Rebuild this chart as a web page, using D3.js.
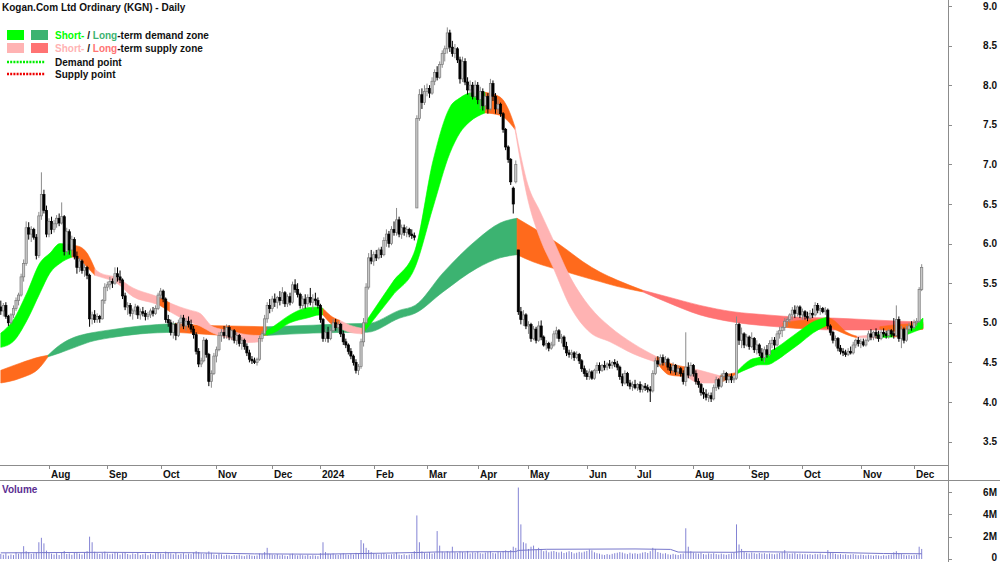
<!DOCTYPE html>
<html><head><meta charset="utf-8">
<script src="https://cdn.jsdelivr.net/npm/d3@7"></script>
<style>
body{margin:0;background:#fff}
svg{display:block;font-family:"Liberation Sans",Arial,sans-serif}
</style></head><body>
<svg id="chart" width="1000" height="562"></svg>
<script>
// ---- data ----
var title = 'Kogan.Com Ltd Ordinary (KGN) - Daily';
var firstDay = '2023-07-05', lastDay = '2024-12-05';
var holidays = ['2023-12-25','2023-12-26','2024-01-01','2024-01-26','2024-03-29','2024-04-01','2024-04-25','2024-06-10'];
var monthLabels = ['Aug','Sep','Oct','Nov','Dec','2024','Feb','Mar','Apr','May','Jun','Jul','Aug','Sep','Oct','Nov','Dec'];
var priceTicks = [3.5,4.0,4.5,5.0,5.5,6.0,6.5,7.0,7.5,8.0,8.5,9.0];
var volumeTicks = [0,2,4,6];

// [open, high, low, close] per trading day
var ohlc = [
 [5.20,5.28,5.10,5.15],[5.15,5.25,5.08,5.22],[5.22,5.26,5.05,5.08],[5.08,5.10,4.96,5.00],[5.00,5.12,4.98,5.10],
 [5.10,5.22,5.06,5.18],[5.18,5.32,5.15,5.28],[5.28,5.38,5.22,5.35],[5.35,5.62,5.33,5.58],[5.58,5.80,5.52,5.75],
 [5.75,6.28,5.72,6.20],[6.20,6.27,6.05,6.12],[6.12,6.22,6.02,6.18],[6.18,6.20,6.05,6.08],[6.08,6.12,5.80,5.85],
 [5.85,6.40,5.82,6.35],[6.35,6.90,6.30,6.62],[6.62,6.68,6.38,6.42],[6.42,6.48,6.08,6.12],[6.12,6.32,6.08,6.28],
 [6.28,6.34,6.12,6.18],[6.18,6.30,6.14,6.25],[6.25,6.36,6.20,6.32],[6.32,6.38,6.22,6.26],[6.26,6.52,6.24,6.34],
 [6.34,6.36,5.85,5.90],[5.90,6.20,5.85,6.15],[6.15,6.18,5.86,5.92],[5.92,6.10,5.84,6.05],[6.05,6.08,5.80,5.84],
 [5.84,5.90,5.62,5.70],[5.70,5.82,5.64,5.78],[5.78,5.80,5.62,5.66],[5.66,5.74,5.58,5.70],[5.70,5.72,5.55,5.60],
 [5.60,5.62,4.95,5.05],[5.05,5.14,4.98,5.10],[5.10,5.16,5.00,5.04],[5.04,5.12,5.00,5.08],[5.08,5.10,5.00,5.05],
 [5.05,5.30,5.04,5.28],[5.28,5.50,5.24,5.45],[5.45,5.52,5.40,5.48],[5.48,5.58,5.42,5.52],[5.52,5.56,5.44,5.50],
 [5.50,5.70,5.48,5.62],[5.62,5.70,5.52,5.58],[5.58,5.66,5.50,5.54],[5.54,5.56,5.30,5.34],[5.34,5.38,5.16,5.20],
 [5.20,5.26,5.10,5.22],[5.22,5.25,5.08,5.12],[5.12,5.18,5.04,5.15],[5.15,5.24,5.10,5.20],[5.20,5.22,5.05,5.10],
 [5.10,5.18,5.04,5.14],[5.14,5.20,5.08,5.12],[5.12,5.16,5.03,5.08],[5.08,5.14,5.04,5.10],[5.10,5.18,5.06,5.15],
 [5.15,5.20,5.08,5.12],[5.12,5.22,5.10,5.18],[5.18,5.38,5.16,5.35],[5.35,5.44,5.30,5.40],[5.40,5.42,5.26,5.30],
 [5.30,5.32,5.00,5.04],[5.04,5.10,4.95,5.00],[5.00,5.04,4.84,4.88],[4.88,5.02,4.80,4.98],[4.98,5.00,4.78,4.84],
 [4.84,5.04,4.82,5.00],[5.00,5.10,4.94,5.06],[5.06,5.10,4.92,4.96],[4.96,5.06,4.90,5.02],[5.02,5.08,4.94,4.98],
 [4.98,5.04,4.88,4.92],[4.92,4.96,4.80,4.85],[4.85,4.88,4.60,4.64],[4.64,4.68,4.44,4.48],[4.48,4.56,4.44,4.52],
 [4.52,4.82,4.50,4.78],[4.78,4.80,4.56,4.60],[4.60,4.62,4.20,4.26],[4.26,4.40,4.18,4.36],[4.36,4.62,4.34,4.58],
 [4.58,4.70,4.50,4.66],[4.66,4.88,4.64,4.84],[4.84,4.92,4.76,4.88],[4.88,4.96,4.80,4.84],[4.84,4.98,4.80,4.94],
 [4.94,4.97,4.78,4.82],[4.82,4.92,4.78,4.90],[4.90,4.92,4.74,4.78],[4.78,4.88,4.72,4.84],[4.84,4.86,4.70,4.74],
 [4.74,4.82,4.66,4.78],[4.78,4.80,4.66,4.70],[4.70,4.74,4.58,4.62],[4.62,4.66,4.50,4.54],[4.54,4.58,4.48,4.52],
 [4.52,4.56,4.48,4.50],[4.50,4.56,4.46,4.54],[4.54,4.84,4.52,4.80],[4.80,4.90,4.76,4.86],[4.86,5.10,4.84,5.05],
 [5.05,5.26,5.00,5.22],[5.22,5.30,5.12,5.18],[5.18,5.34,5.14,5.30],[5.30,5.37,5.20,5.26],[5.26,5.34,5.18,5.32],
 [5.32,5.40,5.22,5.28],[5.28,5.45,5.24,5.38],[5.38,5.40,5.20,5.24],[5.24,5.36,5.20,5.33],[5.33,5.38,5.22,5.26],
 [5.26,5.52,5.24,5.48],[5.48,5.55,5.38,5.42],[5.42,5.50,5.32,5.36],[5.36,5.38,5.18,5.22],[5.22,5.34,5.16,5.30],
 [5.30,5.36,5.18,5.24],[5.24,5.36,5.20,5.32],[5.32,5.44,5.22,5.26],[5.26,5.36,5.16,5.30],[5.30,5.38,5.22,5.28],
 [5.28,5.32,5.18,5.22],[5.22,5.24,5.00,5.04],[5.04,5.06,4.76,4.80],[4.80,4.92,4.76,4.88],[4.88,4.95,4.75,4.80],
 [4.80,4.94,4.78,4.90],[4.90,5.05,4.88,5.00],[5.00,5.05,4.90,4.94],[4.94,5.02,4.88,4.98],[4.98,5.00,4.82,4.86],
 [4.86,4.90,4.72,4.76],[4.76,4.80,4.68,4.72],[4.72,4.74,4.60,4.64],[4.64,4.68,4.54,4.58],[4.58,4.60,4.46,4.50],
 [4.50,4.54,4.36,4.40],[4.40,4.48,4.34,4.45],[4.45,4.80,4.42,4.76],[4.76,5.06,4.70,5.00],[5.00,5.50,4.98,5.45],
 [5.45,5.88,5.42,5.82],[5.82,5.92,5.74,5.78],[5.78,5.90,5.72,5.86],[5.86,5.92,5.78,5.82],[5.82,5.95,5.80,5.92],
 [5.92,5.96,5.82,5.86],[5.86,6.08,5.84,6.04],[6.04,6.18,5.96,6.12],[6.12,6.16,5.95,6.00],[6.00,6.22,5.98,6.18],
 [6.18,6.28,6.10,6.14],[6.14,6.45,6.10,6.30],[6.30,6.34,6.08,6.12],[6.12,6.24,6.06,6.20],[6.20,6.24,6.10,6.14],
 [6.14,6.22,6.08,6.18],[6.18,6.20,6.08,6.12],[6.12,6.18,6.06,6.10],[6.10,6.14,6.04,6.08],[6.45,7.62,6.45,7.58],
 [7.58,7.95,7.55,7.88],[7.88,7.96,7.70,7.78],[7.78,8.00,7.75,7.92],[7.92,8.02,7.86,7.96],[7.96,8.00,7.84,7.90],
 [7.90,8.10,7.88,8.05],[8.05,8.20,8.00,8.16],[8.16,8.24,8.06,8.10],[8.10,8.30,8.08,8.26],[8.26,8.44,8.22,8.40],
 [8.40,8.50,8.30,8.46],[8.46,8.73,8.40,8.66],[8.66,8.70,8.42,8.48],[8.48,8.56,8.36,8.40],[8.40,8.52,8.34,8.46],
 [8.46,8.48,8.28,8.32],[8.32,8.36,8.02,8.08],[8.08,8.36,8.04,8.30],[8.30,8.34,8.00,8.04],[8.04,8.10,7.88,7.94],
 [7.94,8.06,7.86,8.00],[8.00,8.04,7.82,7.86],[7.86,8.06,7.84,8.00],[8.00,8.04,7.76,7.82],[7.82,7.98,7.70,7.92],
 [7.92,7.96,7.68,7.74],[7.74,7.90,7.68,7.86],[7.86,7.90,7.64,7.70],[7.70,8.08,7.68,8.02],[8.02,8.06,7.80,7.86],
 [7.86,7.90,7.64,7.70],[7.70,7.82,7.64,7.76],[7.76,7.78,7.60,7.64],[7.64,7.66,7.40,7.44],[7.44,7.46,7.18,7.22],
 [7.22,7.24,7.02,7.06],[7.06,7.08,6.74,6.78],[6.70,6.72,6.38,6.50],[6.78,7.05,6.76,7.00],[5.92,5.92,5.10,5.14],
 [5.14,5.20,4.98,5.04],[5.04,5.16,4.96,5.10],[5.10,5.12,4.92,4.96],[4.96,5.02,4.86,4.98],[4.98,5.00,4.76,4.80],
 [4.80,4.96,4.78,4.92],[4.92,4.95,4.74,4.78],[4.78,5.02,4.76,4.96],[4.96,5.03,4.78,4.82],[4.82,4.84,4.70,4.72],
 [4.72,4.78,4.66,4.74],[4.74,4.76,4.64,4.68],[4.68,4.76,4.66,4.72],[4.72,4.90,4.70,4.86],[4.86,4.95,4.80,4.90],
 [4.90,4.92,4.76,4.80],[4.80,4.86,4.74,4.82],[4.82,4.84,4.66,4.70],[4.70,4.76,4.58,4.62],[4.62,4.66,4.56,4.60],
 [4.60,4.66,4.54,4.62],[4.62,4.64,4.52,4.56],[4.56,4.64,4.54,4.60],[4.60,4.62,4.48,4.52],[4.52,4.54,4.38,4.42],
 [4.42,4.46,4.32,4.36],[4.36,4.40,4.28,4.32],[4.32,4.42,4.28,4.38],[4.38,4.40,4.28,4.30],[4.30,4.42,4.28,4.40],
 [4.40,4.50,4.36,4.46],[4.46,4.50,4.36,4.40],[4.40,4.48,4.38,4.46],[4.46,4.52,4.40,4.44],[4.44,4.50,4.40,4.48],
 [4.48,4.53,4.42,4.46],[4.46,4.52,4.42,4.50],[4.50,4.54,4.44,4.48],[4.48,4.52,4.40,4.44],[4.44,4.46,4.28,4.32],
 [4.32,4.36,4.20,4.24],[4.24,4.40,4.22,4.36],[4.36,4.38,4.20,4.24],[4.24,4.28,4.16,4.20],[4.20,4.26,4.14,4.22],
 [4.22,4.28,4.16,4.18],[4.18,4.24,4.14,4.22],[4.22,4.26,4.12,4.16],[4.16,4.22,4.12,4.20],[4.20,4.24,4.14,4.18],
 [4.18,4.22,4.12,4.16],[4.16,4.20,4.00,4.14],[4.14,4.40,4.12,4.36],[4.36,4.56,4.34,4.52],[4.52,4.58,4.44,4.48],
 [4.48,4.60,4.46,4.56],[4.56,4.60,4.46,4.50],[4.50,4.58,4.46,4.54],[4.54,4.56,4.40,4.44],[4.44,4.48,4.36,4.40],
 [4.40,4.50,4.36,4.46],[4.46,4.48,4.34,4.38],[4.38,4.46,4.34,4.42],[4.42,4.44,4.32,4.36],[4.36,4.40,4.22,4.26],
 [4.26,4.88,4.20,4.44],[4.44,4.50,4.30,4.34],[4.34,4.50,4.32,4.46],[4.46,4.48,4.32,4.36],[4.36,4.40,4.22,4.26],
 [4.26,4.30,4.18,4.22],[4.22,4.24,4.08,4.12],[4.12,4.18,4.04,4.10],[4.10,4.16,4.02,4.06],[4.06,4.12,4.00,4.08],
 [4.08,4.12,4.00,4.04],[4.04,4.22,4.02,4.18],[4.18,4.32,4.14,4.28],[4.28,4.30,4.16,4.20],[4.20,4.36,4.18,4.32],
 [4.32,4.40,4.26,4.36],[4.36,4.38,4.24,4.28],[4.28,4.36,4.24,4.32],[4.32,4.36,4.24,4.28],[4.28,4.34,4.24,4.30],
 [4.30,5.08,4.28,4.98],[4.98,5.00,4.72,4.78],[4.78,4.94,4.68,4.86],[4.86,4.88,4.68,4.72],[4.72,4.86,4.70,4.82],
 [4.82,4.84,4.66,4.70],[4.70,4.88,4.68,4.80],[4.80,4.82,4.62,4.66],[4.66,4.78,4.60,4.72],[4.72,4.74,4.58,4.62],
 [4.62,4.68,4.52,4.56],[4.56,4.70,4.50,4.66],[4.66,4.72,4.56,4.60],[4.60,4.78,4.58,4.74],[4.74,4.82,4.68,4.78],
 [4.78,4.82,4.66,4.72],[4.72,4.90,4.70,4.86],[4.86,4.95,4.80,4.90],[4.90,4.96,4.82,4.94],[4.94,5.06,4.90,5.02],
 [5.02,5.07,4.95,5.04],[5.04,5.12,5.00,5.10],[5.10,5.20,5.04,5.16],[5.16,5.22,5.06,5.12],[5.12,5.22,5.08,5.20],
 [5.20,5.22,5.06,5.10],[5.10,5.18,5.04,5.14],[5.14,5.16,5.04,5.08],[5.08,5.14,5.02,5.06],[5.06,5.16,5.04,5.12],
 [5.12,5.18,5.06,5.10],[5.10,5.26,5.08,5.22],[5.22,5.25,5.12,5.16],[5.16,5.22,5.10,5.18],[5.18,5.20,5.12,5.14],
 [5.14,5.20,5.10,5.16],[5.16,5.18,4.92,4.96],[4.96,4.98,4.84,4.88],[4.88,4.90,4.74,4.78],[4.78,4.84,4.70,4.80],
 [4.80,4.82,4.64,4.68],[4.68,4.72,4.60,4.64],[4.64,4.68,4.58,4.62],[4.62,4.66,4.57,4.60],[4.60,4.68,4.58,4.64],
 [4.64,4.70,4.60,4.62],[4.62,4.76,4.60,4.72],[4.72,4.80,4.68,4.78],[4.78,4.82,4.70,4.74],[4.74,4.80,4.68,4.76],
 [4.76,4.80,4.70,4.72],[4.72,4.80,4.70,4.78],[4.78,4.90,4.76,4.86],[4.86,4.92,4.78,4.82],[4.82,4.90,4.78,4.88],
 [4.88,4.93,4.80,4.84],[4.84,4.90,4.76,4.80],[4.80,4.92,4.78,4.88],[4.88,4.93,4.82,4.86],[4.86,4.90,4.80,4.84],
 [4.84,4.92,4.80,4.90],[4.90,4.92,4.82,4.86],[4.86,5.06,4.80,4.84],[4.84,5.22,4.82,5.04],[5.04,5.08,4.76,4.80],
 [4.80,4.96,4.68,4.92],[4.92,4.94,4.74,4.78],[4.78,4.96,4.76,4.92],[4.92,5.00,4.88,4.96],[4.96,5.02,4.90,4.94],
 [4.94,5.04,4.92,5.00],[5.00,5.06,4.96,5.02],[5.02,5.45,5.00,5.42],[5.42,5.74,5.40,5.70]
];

// daily volume, millions of shares
var volume = [
 0.45,0.38,0.52,0.30,0.41,0.35,0.60,0.48,0.55,1.15,0.70,0.62,0.45,0.50,0.58,1.50,1.90,1.40,0.75,0.55,
 0.48,0.40,0.52,0.36,0.60,0.72,0.45,0.50,0.38,0.55,0.62,0.48,0.40,0.58,0.70,2.00,1.50,0.65,0.52,0.45,
 0.58,0.66,0.50,0.42,0.48,0.62,0.55,0.40,0.52,0.60,0.45,0.38,0.50,0.44,0.58,0.36,0.42,0.50,0.34,0.46,
 0.40,0.52,0.60,0.48,0.44,0.66,0.58,0.50,0.42,0.55,0.38,0.46,0.52,0.40,0.48,0.44,0.58,0.70,0.62,0.50,
 0.45,0.52,0.68,0.55,0.40,0.36,0.48,0.42,0.30,0.38,0.34,0.28,0.36,0.32,0.40,0.30,0.26,0.34,0.38,0.30,
 0.28,0.32,0.50,0.44,0.62,1.00,0.48,0.40,0.36,0.44,0.32,0.38,0.30,0.26,0.42,0.48,0.36,0.32,0.40,0.34,
 0.30,0.38,0.28,0.34,0.30,0.26,0.52,1.50,0.62,0.48,0.44,0.50,0.40,0.36,0.46,0.52,0.42,0.38,0.48,0.40,
 0.55,0.50,1.70,1.40,1.00,0.80,0.62,0.50,0.45,0.40,0.48,0.52,0.44,0.38,0.42,0.46,0.58,0.40,0.36,0.42,
 0.34,0.40,0.48,0.70,3.90,1.50,0.68,0.55,0.50,0.62,0.48,0.56,2.50,1.20,0.66,0.58,0.70,0.62,1.10,0.60,
 0.55,0.68,0.62,0.58,0.72,0.50,0.60,0.56,0.66,0.52,0.48,0.58,0.62,0.70,0.54,0.50,0.66,0.60,0.72,0.78,
 0.70,0.80,1.10,1.00,6.40,3.10,1.50,1.40,0.90,1.10,1.20,0.85,1.00,0.90,0.70,0.76,0.60,0.68,0.72,0.64,
 0.58,0.66,0.54,0.60,0.70,0.62,0.50,0.56,0.64,0.58,0.66,0.72,0.85,0.78,0.60,0.52,0.48,0.40,0.36,0.44,
 0.38,0.46,0.52,0.56,0.62,0.58,0.50,0.44,0.56,0.48,0.52,0.46,0.50,0.58,0.62,0.54,0.70,1.00,0.90,0.62,
 0.55,0.48,0.52,0.42,0.38,0.46,0.40,0.36,0.44,0.50,2.75,1.10,0.70,0.58,0.52,0.48,0.56,0.44,0.40,0.50,
 0.46,0.52,0.44,0.40,0.48,0.42,0.38,0.44,0.50,0.56,3.10,1.30,0.90,0.62,0.56,0.50,0.58,0.52,0.46,0.54,
 0.48,0.52,0.44,0.50,0.46,0.42,0.48,0.54,0.60,0.80,0.52,0.46,0.50,0.56,0.44,0.48,0.42,0.46,0.40,0.44,
 0.38,0.46,0.42,0.48,0.40,0.36,0.80,0.58,0.52,0.46,0.40,0.44,0.38,0.42,0.36,0.40,0.44,0.38,0.34,0.40,
 0.36,0.32,0.38,0.34,0.30,0.36,0.32,0.28,0.34,0.30,0.36,0.40,0.60,0.70,0.52,0.44,0.38,0.32,0.36,0.30,0.34,0.38,1.10,0.90
];

// volume average line: [bar, millions]
var volumeAvg = [[0,0.55],[40,0.6],[75,0.56],[100,0.46],[125,0.43],[145,0.5],[164,0.58],[172,0.63],[203,0.66],
 [204,0.77],[215,0.87],[250,0.9],[264,0.86],[267,0.62],[289,0.6],[292,0.66],[330,0.58],[348,0.49],[363,0.47]];

// zones: [bar, upper, lower]
var shortZones = [
 {kind:'demand', pts:[[0,4.87,4.69],[4.8,5.03,4.76],[10.3,5.38,5.03],[15.5,5.76,5.38],[19.4,5.88,5.63],[23.3,6.0,5.75],[28.1,5.98,5.83]]},
 {kind:'neutral', pts:[[28.1,5.98,5.83],[31.2,5.96,5.8],[34,5.88,5.7],[37.1,5.68,5.6]]},
 {kind:'supply', pts:[[37.1,5.68,5.6],[39.1,5.63,5.58],[45.8,5.57,5.5],[52.1,5.44,5.33],[60,5.35,5.25],[62.7,5.32,5.22]]},
 {kind:'neutral', pts:[[62.7,5.32,5.22],[66.7,5.25,5.14]]},
 {kind:'supply', pts:[[66.7,5.25,5.14],[70.6,5.2,5.07],[74.6,5.16,5.01],[78.5,5.12,4.96],[83.6,4.95,4.87],[90.3,4.9,4.8],[97,4.85,4.75],[102.2,4.84,4.76],[103,4.86,4.84]]},
 {kind:'demand', pts:[[103,4.86,4.84],[107.3,4.95,4.87],[114,5.1,5.0],[120.7,5.19,5.06],[125.8,5.2,5.1],[127,5.18,5.1]]},
 {kind:'neutral', pts:[[127,5.18,5.1],[130.9,5.07,4.97],[133.7,5.03,4.93]]},
 {kind:'supply', pts:[[133.7,5.03,4.93],[137.6,4.97,4.88],[142.4,4.93,4.86]]},
 {kind:'neutral', pts:[[142.4,4.93,4.86],[143.6,5.0,4.9]]},
 {kind:'demand', pts:[[143.6,5.0,4.9],[154.6,5.52,5.35],[163.3,5.92,5.7],[170.4,7.05,6.46],[177,7.72,7.14],[181,7.84,7.4],[184.9,7.9,7.54],[190.9,7.91,7.65]]},
 {kind:'neutral', pts:[[190.9,7.91,7.65],[196.8,7.85,7.62],[200.7,7.65,7.52],[202.7,7.47,7.44]]},
 {kind:'supply', pts:[[202.7,7.47,7.44],[207.8,6.74,6.55],[212.5,6.41,6.07],[217.7,6.05,5.7],[224.4,5.58,5.21],[232.2,5.2,4.88],[240.1,4.95,4.76],[249.2,4.74,4.61],[258.6,4.57,4.5]]},
 {kind:'neutral', pts:[[258.6,4.57,4.5],[263.8,4.49,4.34],[270.5,4.44,4.32]]},
 {kind:'supply', pts:[[270.5,4.44,4.32],[275.6,4.4,4.24],[283.5,4.33,4.24]]},
 {kind:'neutral', pts:[[283.5,4.33,4.24],[289.8,4.37,4.35]]},
 {kind:'demand', pts:[[289.8,4.37,4.35],[295.3,4.53,4.43],[299.3,4.57,4.47],[302,4.62,4.47],[306,4.69,4.53],[309.9,4.78,4.62],[315,4.9,4.74],[320.1,5.01,4.87],[325.7,5.07,4.97]]},
 {kind:'neutral', pts:[[325.7,5.07,4.97],[328,5.04,4.93],[333.5,4.88,4.85],[337.5,4.83,4.81]]},
 {kind:'supply', pts:[[337.5,4.83,4.81],[345.4,4.85,4.81]]},
 {kind:'demand', pts:[[345.4,4.85,4.81],[351.7,4.87,4.82]]},
 {kind:'neutral', pts:[[351.7,4.87,4.82],[355.6,4.88,4.83]]},
 {kind:'demand', pts:[[355.6,4.88,4.83],[359.5,4.95,4.88],[363.5,5.06,4.93]]}
];
var longZones = [
 {kind:'neutral', pts:[[0,4.40,4.24],[7.6,4.49,4.30],[15.5,4.57,4.44],[18.6,4.59,4.57]]},
 {kind:'demand', pts:[[18.6,4.59,4.57],[23.3,4.72,4.62],[29.2,4.82,4.69],[35.2,4.87,4.76],[43,4.91,4.81],[54.9,4.96,4.86],[68.7,4.99,4.88]]},
 {kind:'neutral', pts:[[68.7,4.99,4.88],[78.5,4.97,4.86],[90.3,4.96,4.84],[104.9,4.95,4.84]]},
 {kind:'demand', pts:[[104.9,4.95,4.84],[123.1,4.97,4.87],[141.6,4.99,4.88],[144.3,4.99,4.88],[157.3,5.16,5.06],[163.3,5.22,5.12],[174.3,5.63,5.39],[187.7,6.05,5.69],[196.8,6.26,5.82],[203.5,6.32,5.86]]},
 {kind:'neutral', pts:[[203.5,6.32,5.86],[209.8,6.2,5.77],[216.5,6.07,5.7],[223.2,5.92,5.64],[229.5,5.77,5.58],[236.2,5.64,5.52],[242.9,5.54,5.46],[253.1,5.41,5.39]]},
 {kind:'supply', pts:[[253.1,5.41,5.39],[262.6,5.33,5.26],[275.6,5.22,5.1],[288.6,5.14,5.01],[302,5.1,4.96],[315,5.07,4.93],[328,5.06,4.91],[341.4,5.04,4.91],[354.4,5.02,4.91],[363.5,5.01,4.92]]},
 {kind:'neutral', pts:[[308.3,5.0,4.95],[315,5.03,4.93],[322.9,5.04,4.93],[326.9,5.02,4.95]]},
 {kind:'neutral', pts:[[346.5,4.95,4.92],[354.4,4.98,4.89],[363.5,4.99,4.92]]}
];

// ---- styles ----
var zoneColors = {
  short: {demand:'#00ff00', supply:'#ffb3b3', neutral:'#ff6a1c'},
  long:  {demand:'#3cb371', supply:'#ff7373', neutral:'#ff6a1c'}
};
var W = 1000, H = 562, axisX = 948;
var svg = d3.select('#chart');

function tradingDays(){
  var out = [], d = new Date(firstDay + 'T00:00:00Z'), end = new Date(lastDay + 'T00:00:00Z');
  while (d <= end) {
    var wd = d.getUTCDay(), s = d.toISOString().slice(0, 10);
    if (wd > 0 && wd < 6 && holidays.indexOf(s) < 0) out.push(s);
    d.setUTCDate(d.getUTCDate() + 1);
  }
  return out;
}
var days = tradingDays();

var x = d3.scaleLinear().domain([0, 363]).range([0.8, 921.7]);
var y = d3.scaleLinear().domain([3.5, 9.0]).range([441.6, 6]);
var yv = d3.scaleLinear().domain([0, 6]).range([559, 492]);

// zones
function drawZones(list, colors){
  var area = d3.area()
    .x(function(d){ return x(d[0]); })
    .y0(function(d){ return y(d[2]); })
    .y1(function(d){ return y(d[1]); })
    .curve(d3.curveMonotoneX);
  svg.append('g').selectAll('path').data(list).enter()
    .append('path')
    .attr('d', function(z){ return area(z.pts); })
    .attr('fill', function(z){ return colors[z.kind]; })
    .attr('stroke', function(z){ return colors[z.kind]; })
    .attr('stroke-width', 0.6);
}
drawZones(longZones, zoneColors.long);
drawZones(shortZones, zoneColors.short);

// candles
var candles = svg.append('g').selectAll('g').data(ohlc).enter().append('g');
candles.append('line')
  .attr('x1', function(d, i){ return x(i); })
  .attr('x2', function(d, i){ return x(i); })
  .attr('y1', function(d){ return y(d[1]); })
  .attr('y2', function(d){ return y(d[2]); })
  .attr('stroke', function(d){ return d[3] >= d[0] ? '#8a8a8a' : '#000'; })
  .attr('stroke-width', 1);
candles.append('rect')
  .attr('x', function(d, i){ return x(i) - 1.1; })
  .attr('width', 2.2)
  .attr('y', function(d){ return y(Math.max(d[0], d[3])); })
  .attr('height', function(d){ return Math.max(0.8, Math.abs(y(d[0]) - y(d[3]))); })
  .attr('fill', function(d){ return d[3] >= d[0] ? '#c8c8c8' : '#000'; })
  .attr('stroke', function(d){ return d[3] >= d[0] ? '#7a7a7a' : '#000'; })
  .attr('stroke-width', 0.7);

// volume
svg.append('g').selectAll('line').data(volume).enter()
  .append('line')
  .attr('x1', function(d, i){ return x(i); })
  .attr('x2', function(d, i){ return x(i); })
  .attr('y1', yv(0))
  .attr('y2', function(d){ return yv(d); })
  .attr('stroke', '#8484d4')
  .attr('stroke-width', 1);
svg.append('path')
  .attr('d', d3.line().x(function(d){ return x(d[0]); }).y(function(d){ return yv(d[1]); })(volumeAvg))
  .attr('fill', 'none')
  .attr('stroke', '#7777cc')
  .attr('stroke-width', 1);

// frame lines
svg.append('line').attr('x1', 0).attr('x2', axisX).attr('y1', 465.5).attr('y2', 465.5).attr('stroke', '#8c8c8c');
svg.append('line').attr('x1', 0).attr('x2', W).attr('y1', 480.5).attr('y2', 480.5).attr('stroke', '#8c8c8c');
svg.append('line').attr('x1', axisX + 0.5).attr('x2', axisX + 0.5).attr('y1', 0).attr('y2', H).attr('stroke', '#8c8c8c');

// month axis
var monthStarts = [];
days.forEach(function(d, i){
  if (i > 0 && d.slice(5, 7) !== days[i - 1].slice(5, 7)) monthStarts.push(i);
});
var months = svg.append('g').selectAll('g').data(monthStarts).enter().append('g')
  .attr('transform', function(i){ return 'translate(' + Math.round(x(i)) + ',0)'; });
months.append('line').attr('x1', 0.5).attr('x2', 0.5).attr('y1', 465).attr('y2', 469).attr('stroke', '#8c8c8c');
months.append('text').attr('x', 2).attr('y', 477.5)
  .attr('font-size', 10).attr('font-weight', 'bold').attr('fill', '#111')
  .text(function(d, k){ return monthLabels[k]; });

// price axis
var pa = svg.append('g').selectAll('g').data(priceTicks).enter().append('g');
pa.append('line').attr('x1', axisX).attr('x2', axisX + 4)
  .attr('y1', function(d){ return Math.round(y(d)) + 0.5; })
  .attr('y2', function(d){ return Math.round(y(d)) + 0.5; })
  .attr('stroke', '#8c8c8c');
pa.append('text').attr('x', 997).attr('y', function(d){ return y(d) + 3.5; })
  .attr('text-anchor', 'end').attr('font-size', 10).attr('font-weight', 'bold').attr('fill', '#111')
  .text(function(d){ return d3.format('.1f')(d); });

// volume axis
var va = svg.append('g').selectAll('g').data(volumeTicks).enter().append('g');
va.append('line').attr('x1', axisX).attr('x2', axisX + 4)
  .attr('y1', function(d){ return Math.round(yv(d)) + 0.5; })
  .attr('y2', function(d){ return Math.round(yv(d)) + 0.5; })
  .attr('stroke', '#8c8c8c');
va.append('text').attr('x', 997)
  .attr('y', function(d){ return Math.min(yv(d) + 3.5, 561); })
  .attr('text-anchor', 'end').attr('font-size', 10).attr('font-weight', 'bold').attr('fill', '#111')
  .text(function(d){ return d === 0 ? '0' : d + 'M'; });

svg.append('text').attr('x', 2).attr('y', 493).attr('font-size', 10).attr('font-weight', 'bold')
  .attr('fill', '#5a2d91').text('Volume');

// title and legend
svg.append('text').attr('x', 2).attr('y', 11).attr('font-size', 10).attr('font-weight', 'bold')
  .attr('fill', '#111').text(title);

var lg = svg.append('g').attr('font-size', 10).attr('font-weight', 'bold').attr('fill', '#111');
lg.append('rect').attr('x', 7).attr('y', 30).attr('width', 17).attr('height', 10).attr('fill', zoneColors.short.demand);
lg.append('rect').attr('x', 31).attr('y', 30).attr('width', 17).attr('height', 10).attr('fill', zoneColors.long.demand);
lg.append('rect').attr('x', 7).attr('y', 43).attr('width', 17).attr('height', 10).attr('fill', zoneColors.short.supply);
lg.append('rect').attr('x', 31).attr('y', 43).attr('width', 17).attr('height', 10).attr('fill', zoneColors.long.supply);
lg.append('line').attr('x1', 7).attr('x2', 45).attr('y1', 62).attr('y2', 62)
  .attr('stroke', '#00ee00').attr('stroke-width', 2.5).attr('stroke-dasharray', '2,1.2');
lg.append('line').attr('x1', 7).attr('x2', 45).attr('y1', 74).attr('y2', 74)
  .attr('stroke', '#ee0000').attr('stroke-width', 2.5).attr('stroke-dasharray', '2,1.2');

var t1 = lg.append('text').attr('x', 55).attr('y', 39);
t1.append('tspan').attr('fill', zoneColors.short.demand).text('Short-');
t1.append('tspan').text(' / ');
t1.append('tspan').attr('fill', zoneColors.long.demand).text('Long');
t1.append('tspan').text('-term demand zone');
var t2 = lg.append('text').attr('x', 55).attr('y', 52);
t2.append('tspan').attr('fill', zoneColors.short.supply).text('Short-');
t2.append('tspan').text(' / ');
t2.append('tspan').attr('fill', zoneColors.long.supply).text('Long');
t2.append('tspan').text('-term supply zone');
lg.append('text').attr('x', 55).attr('y', 65.5).text('Demand point');
lg.append('text').attr('x', 55).attr('y', 78).text('Supply point');
</script>
</body></html>
